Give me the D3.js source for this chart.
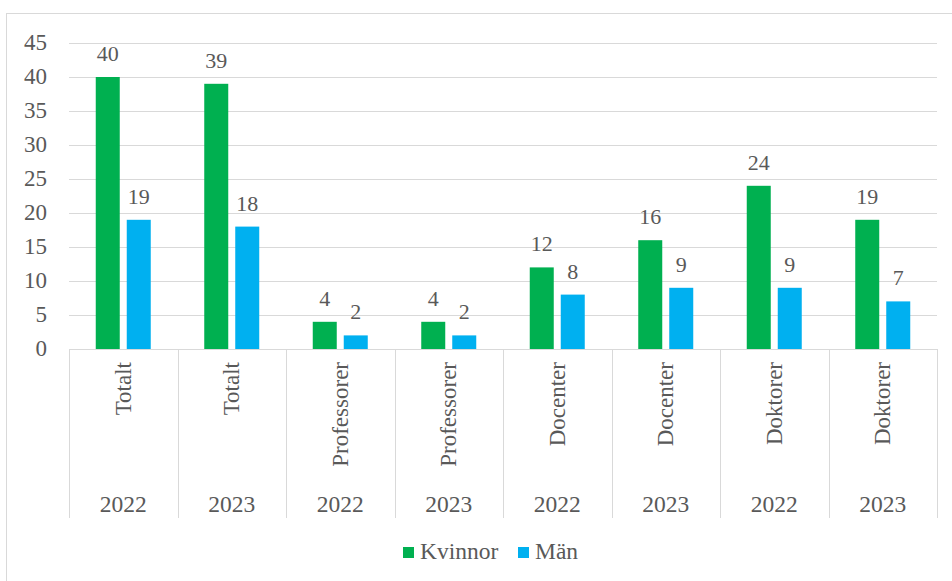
<!DOCTYPE html>
<html><head><meta charset="utf-8">
<script src="https://cdn.jsdelivr.net/npm/d3@7"></script>
<style>
html,body{margin:0;padding:0;background:#fff;}
</style></head>
<body><svg id="chart" width="952" height="581" style="font-family:'Liberation Serif','Times New Roman',serif"></svg>
<script>
const categories = ["Totalt","Totalt","Professorer","Professorer","Docenter","Docenter","Doktorer","Doktorer"];
const years = ["2022","2023","2022","2023","2022","2023","2022","2023"];
const kvinnor = [40,39,4,4,12,16,24,19];
const man = [19,18,2,2,8,9,9,7];
const seriesNames = ["Kvinnor","Män"];
const seriesColors = ["#00B050","#00B0F0"];
const yTicks = [0,5,10,15,20,25,30,35,40,45];

(function(){
const FONT = "'Liberation Serif'";
const TXT = "#595959";
const svg = d3.select("#chart");
const W = 952, H = 581;
const pLeft = 69, pRight = 937, pTop = 43, pBottom = 349;
const txt = sel => sel.style("font-family",FONT).attr("fill",TXT);

// outer border
svg.append("rect").attr("x",6.5).attr("y",13.5).attr("width",W).attr("height",H)
  .attr("fill","none").attr("stroke","#d9d9d9").attr("stroke-width",1);

const idx = d3.range(categories.length);
const x = d3.scaleBand().domain(idx).range([pLeft,pRight]).paddingInner(0).paddingOuter(0);
const y = d3.scaleLinear().domain([0,45]).range([pBottom,pTop]);
const groupW = 55;
const x1 = d3.scaleBand().domain([0,1]).range([0,groupW]).paddingInner(7/31).paddingOuter(0);

// gridlines
svg.append("g").selectAll("line").data(yTicks.filter(t=>t>0)).join("line")
  .attr("x1",pLeft).attr("x2",pRight)
  .attr("y1",d=>Math.round(y(d))+0.5).attr("y2",d=>Math.round(y(d))+0.5)
  .attr("stroke","#d9d9d9").attr("stroke-width",1);

// y tick labels
svg.append("g").selectAll("text").data(yTicks).join("text")
  .attr("x",47).attr("y",d=>y(d)).attr("dy","0.3em")
  .attr("text-anchor","end").style("font-size","23px").call(txt).text(d=>d);

// bars
const series = [kvinnor, man];
series.forEach((vals,si)=>{
  const g = svg.append("g");
  g.selectAll("rect").data(idx).join("rect")
    .attr("x",i=>x(i)+(x.bandwidth()-groupW)/2+x1(si))
    .attr("width",x1.bandwidth())
    .attr("y",i=>y(vals[i]))
    .attr("height",i=>y(0)-y(vals[i]))
    .attr("fill",seriesColors[si]);
  g.selectAll("text").data(idx).join("text")
    .attr("x",i=>x(i)+(x.bandwidth()-groupW)/2+x1(si)+x1.bandwidth()/2)
    .attr("y",i=>y(vals[i])-16)
    .attr("text-anchor","middle").style("font-size","22px").call(txt)
    .text(i=>vals[i]);
});

// axis line
svg.append("line").attr("x1",pLeft).attr("x2",pRight)
  .attr("y1",pBottom+0.5).attr("y2",pBottom+0.5)
  .attr("stroke","#d9d9d9").attr("stroke-width",1);

// category separators
const seps = idx.map(i=>x(i)).concat([pRight]);
svg.append("g").selectAll("line").data(seps).join("line")
  .attr("x1",d=>Math.round(d)+0.5).attr("x2",d=>Math.round(d)+0.5)
  .attr("y1",pBottom).attr("y2",518)
  .attr("stroke","#d9d9d9").attr("stroke-width",1);

// category labels (rotated)
svg.append("g").selectAll("text").data(idx).join("text")
  .attr("transform",i=>`translate(${x(i)+x.bandwidth()/2+7.5},362) rotate(-90)`)
  .attr("text-anchor","end").style("font-size","23px").call(txt)
  .text(i=>categories[i]);

// year labels
svg.append("g").selectAll("text").data(idx).join("text")
  .attr("x",i=>x(i)+x.bandwidth()/2).attr("y",512)
  .attr("text-anchor","middle").style("font-size","23.5px").call(txt)
  .text(i=>years[i]);

// legend
const legend = svg.append("g");
const legX = [403,518];
seriesNames.forEach((n,i)=>{
  legend.append("rect").attr("x",legX[i]).attr("y",547).attr("width",11).attr("height",11)
    .attr("fill",seriesColors[i]);
  legend.append("text").attr("x",legX[i]+17).attr("y",559).style("font-size","23.5px").call(txt).text(n);
});
})();
</script></body></html>
